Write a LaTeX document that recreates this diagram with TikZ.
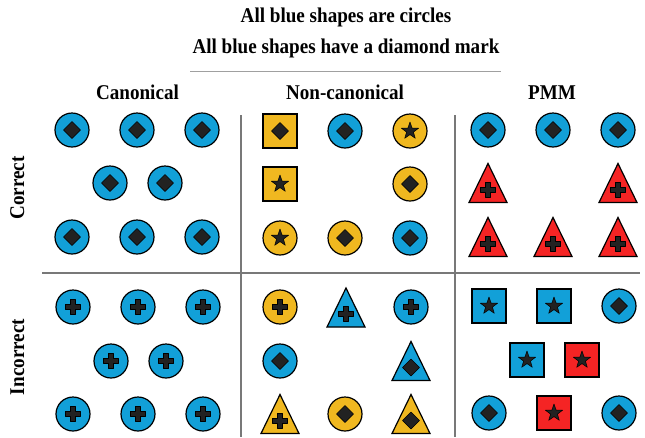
\documentclass[tikz,border=0pt]{standalone}
\usepackage{fontspec}
\setmainfont{Liberation Serif}[FakeStretch=0.91]
\usetikzlibrary{calc}
\definecolor{cblue}{RGB}{18,160,216}
\definecolor{cyel}{RGB}{240,184,32}
\definecolor{cred}{RGB}{245,36,36}
\definecolor{cmark}{RGB}{34,34,34}
\definecolor{cgrid}{RGB}{120,120,120}
\definecolor{cline}{RGB}{160,160,160}
\tikzset{
  shp/.style={draw=black, line width=1.2pt},
  circ/.style={shp, circle, minimum size=34pt, inner sep=0pt},
  sq/.style={shp, rectangle, minimum size=34pt, inner sep=0pt},
  mk/.style={fill=cmark, draw=black, line width=0.5pt, line join=round},
  lbl/.style={font=\fontsize{21}{25}\selectfont\bfseries, inner sep=0pt, anchor=base},
  gridline/.style={draw=cgrid, line width=1.2pt},
  pics/dmd/.style={code={\draw[mk] (0,-8.5)--(8.5,0)--(0,8.5)--(-8.5,0)--cycle;}},
  pics/pls/.style={code={\draw[mk] (-7.5,-2.4)--(-2.4,-2.4)--(-2.4,-7.5)--(2.4,-7.5)--(2.4,-2.4)--(7.5,-2.4)--(7.5,2.4)--(2.4,2.4)--(2.4,7.5)--(-2.4,7.5)--(-2.4,2.4)--(-7.5,2.4)--cycle;}},
  pics/str/.style={code={\draw[mk] (90:9pt)--(126:3.6pt)--(162:9pt)--(198:3.6pt)--(234:9pt)--(270:3.6pt)--(306:9pt)--(342:3.6pt)--(18:9pt)--(54:3.6pt)--cycle;}},
}
\newcommand\ShCirc[5]{\node[circ, fill=#4] (#1) at (#2,#3) {}; \pic at (#1) {#5};}
\newcommand\ShSq[5]{\node[sq, fill=#4] (#1) at (#2,#3) {}; \pic at (#1) {#5};}
\newcommand\ShTri[5]{\coordinate (#1) at (#2,#3);
  \draw[shp, fill=#4, line join=miter] ($(#1)+(0,-19.5)$) -- ($(#1)+(19,19.5)$) -- ($(#1)+(-19,19.5)$) -- cycle;
  \pic at ($(#1)+(0,6.5)$) {#5};}
\begin{document}
\begin{tikzpicture}[x=1pt, y=-1pt]
\useasboundingbox (0,0) rectangle (645,437);
% titles
\node[lbl] (t1) at (346,22) {All blue shapes are circles};
\node[lbl] (t2) at (346,53) {All blue shapes have a diamond mark};
\draw[draw=cline, line width=0.9pt] (190,71) -- (501,71);
\node[lbl] (h1) at (137.5,99) {Canonical};
\node[lbl] (h2) at (345,99) {Non-canonical};
\node[lbl] (h3) at (552,99) {PMM};
\node[lbl, anchor=base, rotate=90] (r1) at (24,188) {Correct};
\node[lbl, anchor=base, rotate=90] (r2) at (24,357) {Incorrect};
% grid
\draw[gridline] (241,115) -- (241,437);
\draw[gridline] (455,115) -- (455,437);
\draw[gridline] (42,273) -- (640,273);
% canonical correct
\ShCirc{a1}{72}{130}{cblue}{dmd}
\ShCirc{a2}{137}{130}{cblue}{dmd}
\ShCirc{a3}{202}{130}{cblue}{dmd}
\ShCirc{a4}{110}{183}{cblue}{dmd}
\ShCirc{a5}{165}{183}{cblue}{dmd}
\ShCirc{a6}{72}{237}{cblue}{dmd}
\ShCirc{a7}{137}{237}{cblue}{dmd}
\ShCirc{a8}{202}{237}{cblue}{dmd}
% non-canonical correct
\ShSq{b1}{280}{131}{cyel}{dmd}
\ShCirc{b2}{345}{131}{cblue}{dmd}
\ShCirc{b3}{410}{131}{cyel}{str}
\ShSq{b4}{280}{184}{cyel}{str}
\ShCirc{b5}{410}{184}{cyel}{dmd}
\ShCirc{b6}{280}{238}{cyel}{str}
\ShCirc{b7}{345}{238}{cyel}{dmd}
\ShCirc{b8}{410}{238}{cblue}{dmd}
% PMM correct
\ShCirc{c1}{488}{130}{cblue}{dmd}
\ShCirc{c2}{553}{130}{cblue}{dmd}
\ShCirc{c3}{618}{130}{cblue}{dmd}
\ShTri{c4}{488}{183}{cred}{pls}
\ShTri{c5}{618}{183}{cred}{pls}
\ShTri{c6}{488}{237}{cred}{pls}
\ShTri{c7}{553}{237}{cred}{pls}
\ShTri{c8}{618}{237}{cred}{pls}
% canonical incorrect
\ShCirc{d1}{73}{307}{cblue}{pls}
\ShCirc{d2}{138}{307}{cblue}{pls}
\ShCirc{d3}{203}{307}{cblue}{pls}
\ShCirc{d4}{111}{361}{cblue}{pls}
\ShCirc{d5}{166}{361}{cblue}{pls}
\ShCirc{d6}{73}{414}{cblue}{pls}
\ShCirc{d7}{138}{414}{cblue}{pls}
\ShCirc{d8}{203}{414}{cblue}{pls}
% non-canonical incorrect
\ShCirc{e1}{280}{307}{cyel}{pls}
\ShTri{e2}{346}{307.5}{cblue}{pls}
\ShCirc{e3}{411}{307}{cblue}{pls}
\ShCirc{e4}{280}{361}{cblue}{dmd}
\ShTri{e5}{411}{361}{cblue}{dmd}
\ShTri{e6}{280}{414}{cyel}{pls}
\ShCirc{e7}{345}{414}{cyel}{dmd}
\ShTri{e8}{411}{414}{cyel}{dmd}
% PMM incorrect
\ShSq{f1}{489}{306}{cblue}{str}
\ShSq{f2}{554}{306}{cblue}{str}
\ShCirc{f3}{619}{306}{cblue}{dmd}
\ShSq{f4}{527}{360}{cblue}{str}
\ShSq{f5}{582}{360}{cred}{str}
\ShCirc{f6}{489}{413}{cblue}{dmd}
\ShSq{f7}{554}{413}{cred}{str}
\ShCirc{f8}{619}{413}{cblue}{dmd}
\end{tikzpicture}
\end{document}
